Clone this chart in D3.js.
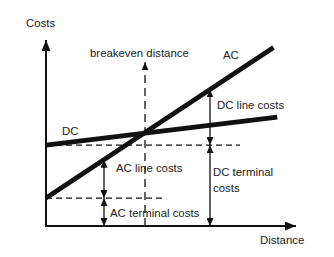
<!DOCTYPE html>
<html>
<head>
<meta charset="utf-8">
<script src="https://cdn.jsdelivr.net/npm/d3@7"></script>
<style>
  body { margin: 0; background: #fff; }
  text { font-family: "Liberation Sans", Arial, sans-serif; font-size: 11.4px; fill: #222; }
</style>
</head>
<body>
<script>
// chart values (abstract units)
const acLine = [[0, 1.5], [9.1, 9.6]]
const dcLine = [[0, 4.35], [9.25, 5.85]]
const breakeven = 3.96
const acArrowX = 2.32
const dcArrowX = 6.56
const upperDashEnd = 7.76
const lowerDashEnd = 4.64

width = 334
height = 257

const x = d3.scaleLinear().domain([0, 10]).range([46, 296])
const y = d3.scaleLinear().domain([0, 10]).range([226, 40])

// value of a straight line at distance d
const lineAt = (l, d) => l[0][1] + (l[1][1] - l[0][1]) * (d - l[0][0]) / (l[1][0] - l[0][0])

const svg = d3.select("body").append("svg")
    .attr("width", width)
    .attr("height", height)

const defs = svg.append("defs")
function marker(id, w, h) {
    defs.append("marker")
        .attr("id", id)
        .attr("viewBox", `0 ${-h / 2} ${w} ${h}`)
        .attr("refX", w).attr("refY", 0)
        .attr("markerUnits", "userSpaceOnUse")
        .attr("markerWidth", w).attr("markerHeight", h)
        .attr("orient", "auto-start-reverse")
        .append("path")
        .attr("d", `M0,${-h / 2}L${w},0L0,${h / 2}Z`)
        .attr("fill", "#111")
}
marker("big", 11, 9)
marker("small", 8, 7)

// axes
svg.append("line")
    .attr("x1", x(0)).attr("y1", y(0))
    .attr("x2", x(0)).attr("y2", y(10))
    .attr("stroke", "#111").attr("stroke-width", 2)
    .attr("marker-end", "url(#big)")
svg.append("line")
    .attr("x1", x(0) - 1).attr("y1", y(0))
    .attr("x2", x(10)).attr("y2", y(0))
    .attr("stroke", "#111").attr("stroke-width", 2)
    .attr("marker-end", "url(#big)")

// dashed guides
const dash = svg.append("g")
    .attr("stroke", "#111").attr("stroke-width", 1.3)
    .attr("stroke-dasharray", "6,4").attr("fill", "none")
dash.append("line")
    .attr("x1", x(0)).attr("x2", x(upperDashEnd))
    .attr("y1", y(dcLine[0][1])).attr("y2", y(dcLine[0][1]))
dash.append("line")
    .attr("x1", x(0)).attr("x2", x(lowerDashEnd))
    .attr("y1", y(acLine[0][1])).attr("y2", y(acLine[0][1]))
dash.append("line")
    .attr("x1", x(breakeven)).attr("x2", x(breakeven))
    .attr("y1", y(0)).attr("y2", y(8.8))
    .attr("stroke-dasharray", "8,5")
    .attr("marker-end", "url(#small)")

// cost lines
const line = d3.line().x(d => x(d[0])).y(d => y(d[1]))
svg.selectAll("path.cost")
    .data([acLine, dcLine])
    .join("path")
    .attr("class", "cost")
    .attr("d", line)
    .attr("fill", "none")
    .attr("stroke", "#111")
    .attr("stroke-width", 4.8)

// double headed cost arrows
const arrows = [
    [acArrowX, acLine[0][1], lineAt(acLine, acArrowX)],
    [acArrowX, 0, acLine[0][1]],
    [dcArrowX, dcLine[0][1], lineAt(acLine, dcArrowX)],
    [dcArrowX, 0, dcLine[0][1]]
]
svg.selectAll("line.arrow")
    .data(arrows)
    .join("line")
    .attr("class", "arrow")
    .attr("x1", d => x(d[0])).attr("x2", d => x(d[0]))
    .attr("y1", d => y(d[1])).attr("y2", d => y(d[2]))
    .attr("stroke", "#111").attr("stroke-width", 1.3)
    .attr("marker-start", "url(#small)")
    .attr("marker-end", "url(#small)")

// labels
const labels = [
    ["Costs", 26, 27],
    ["breakeven distance", 90, 57],
    ["AC", 223, 59],
    ["DC line costs", 217, 109],
    ["DC", 62, 135],
    ["AC line costs", 116, 172],
    ["DC terminal", 213, 176],
    ["costs", 213, 192],
    ["AC terminal costs", 110, 217],
    ["Distance", 260, 244]
]
svg.selectAll("text")
    .data(labels)
    .join("text")
    .attr("x", d => d[1])
    .attr("y", d => d[2])
    .text(d => d[0])
</script>
</body>
</html>
